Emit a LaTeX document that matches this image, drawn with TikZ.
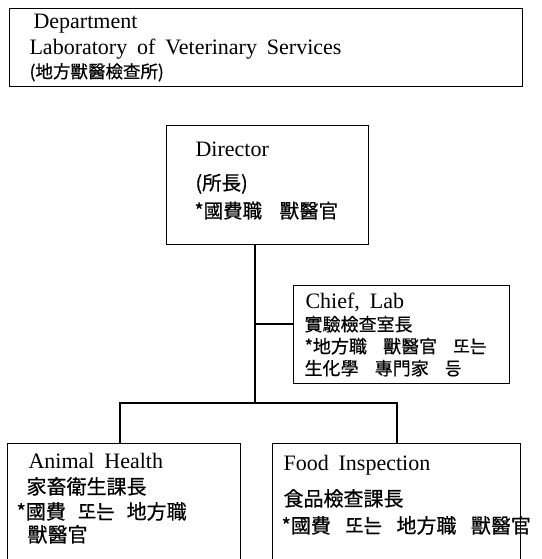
\documentclass[tikz,border=0pt]{standalone}
\usepackage{fontspec}
\setmainfont{Liberation Serif}
\newfontfamily\krfont[FakeBold=0.6]{Noto Sans CJK KR}
\newcommand\wsp{\hspace{0.45em}}
\newcommand\csp[1][0.9em]{\hspace{#1}}
\begin{document}
\begin{tikzpicture}[x=1pt,y=-1pt,line width=1.1pt,
  box/.style={draw,rectangle,inner sep=0pt,anchor=north west},
  lat/.style={anchor=base west,inner sep=0pt,font=\fontsize{22}{22}\selectfont},
  cjk/.style={anchor=base west,inner sep=0pt,font=\krfont\fontsize{#1}{#1}\selectfont},
  cjk/.default=18]
\useasboundingbox (0,0) rectangle (541,559);
\clip (0,0) rectangle (541,559);
% boxes
\node[box,minimum width=513pt,minimum height=78pt] (dept) at (9,8) {};
\node[box,minimum width=202pt,minimum height=119pt] (director) at (166,125) {};
\node[box,minimum width=216pt,minimum height=98pt] (chief) at (293,285) {};
\node[box,minimum width=233pt,minimum height=140pt] (animal) at (7,443) {};
\node[box,minimum width=248pt,minimum height=140pt] (food) at (272,443) {};
% texts
\node[lat] (d1) at (33,29) {Department};
\node[lat] (d2) at (29,55) {Laboratory\wsp of\wsp Veterinary\wsp Services};
\node[cjk=17.5] (d3) at (29,78) {(地方獸醫檢查所)};
\node[lat] (r1) at (195,157) {Director};
\node[cjk=19.5] (r2) at (195,190) {(所長)};
\node[cjk=19.5] (r3) at (194,218) {*國費職\csp 獸醫官};
\node[lat] (c1) at (305,308) {Chief,\wsp Lab};
\node[cjk=18] (c2) at (304,331) {實驗檢查室長};
\node[cjk=18] (c3) at (304,353) {*地方職\csp 獸醫官\csp 또는};
\node[cjk=18] (c4) at (304,375) {生化學\csp 專門家\csp 등};
\node[lat] (a1) at (28,468) {Animal\wsp Health};
\node[cjk=20] (a2) at (26,494) {家畜衛生課長};
\node[cjk=20] (a3) at (16,519) {*國費\csp[0.6em]또는\csp[0.6em]地方職};
\node[cjk=20] (a4) at (27,542) {獸醫官};
\node[lat] (f1) at (283,470) {Food\wsp Inspection};
\node[cjk=20] (f2) at (283,506) {食品檢查課長};
\node[cjk=20] (f3) at (281,533) {*國費\csp[0.72em]또는\csp[0.72em]地方職\csp[0.72em]獸醫官};
% connectors
\coordinate (j1) at (255,324);
\coordinate (j2) at (255,403);
\coordinate (bl) at (120,403);
\coordinate (br) at (397,403);
\draw (director.south -| j1) -- (j2);
\draw (j1) -- (j1 -| chief.west);
\draw (animal.north -| bl) -- (bl) -- (br) -- (food.north -| br);
\end{tikzpicture}
\end{document}
